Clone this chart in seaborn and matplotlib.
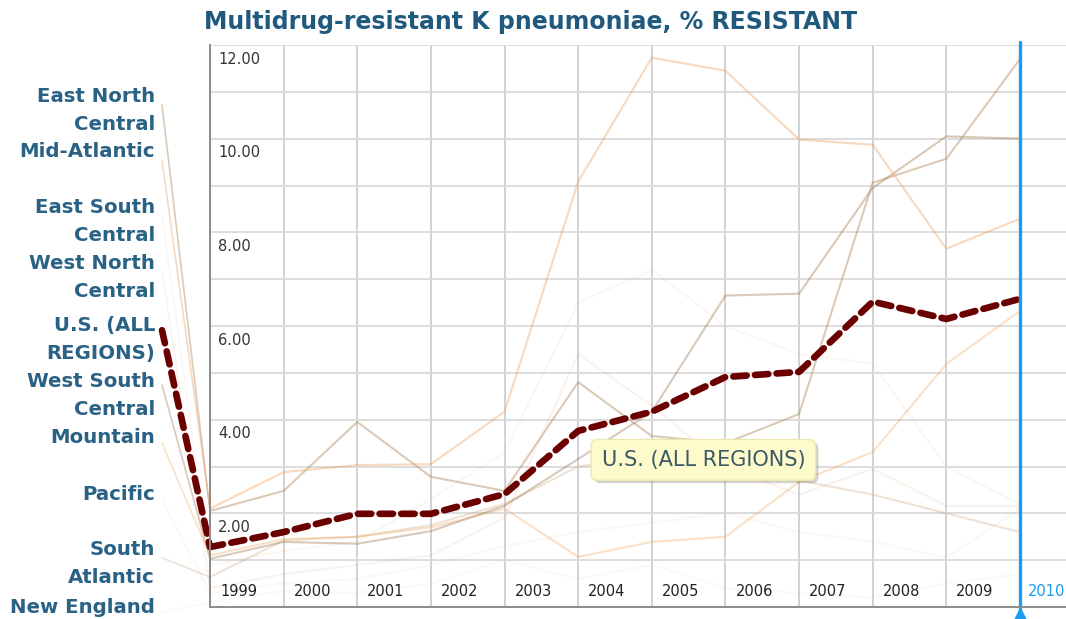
import matplotlib
matplotlib.use("Agg")
import matplotlib.pyplot as plt
import matplotlib.patheffects as pe
import numpy as np
import pandas as pd
import seaborn as sns

# data (percent resistant)
years = list(range(1999, 2011))
regions = [
    "East North\nCentral",
    "Mid-Atlantic",
    "East South\nCentral",
    "West North\nCentral",
    "U.S. (ALL\nREGIONS)",
    "West South\nCentral",
    "Mountain",
    "Pacific",
    "South\nAtlantic",
    "New England",
]
east_north_central = [2.05, 2.48, 3.95, 2.78, 2.48, 4.80, 3.65, 3.50, 4.12, 9.06, 9.57, 11.70]
mid_atlantic = [2.10, 2.88, 3.03, 3.05, 4.17, 9.08, 11.73, 11.45, 9.98, 9.87, 7.65, 8.29]
east_south_central = [0.90, 1.20, 1.40, 2.30, 3.30, 6.50, 7.20, 6.00, 5.40, 5.20, 3.00, 2.20]
west_north_central = [0.40, 0.70, 0.90, 1.10, 1.90, 5.40, 4.30, 3.00, 2.40, 2.95, 2.16, 2.16]
us_all = [1.28, 1.60, 1.99, 1.99, 2.41, 3.76, 4.17, 4.91, 5.02, 6.52, 6.15, 6.58]
west_south_central = [1.03, 1.39, 1.35, 1.62, 2.16, 3.16, 4.17, 6.65, 6.69, 8.95, 10.05, 10.00]
mountain = [1.10, 1.45, 1.50, 1.70, 2.10, 1.07, 1.39, 1.50, 2.67, 3.31, 5.19, 6.32]
pacific = [0.30, 0.50, 0.60, 0.90, 1.30, 1.60, 1.80, 2.00, 1.60, 1.40, 1.05, 2.10]
south_atlantic = [0.64, 1.42, 1.50, 1.75, 2.20, 3.00, 3.20, 3.10, 2.70, 2.40, 2.00, 1.60]
new_england = [0.10, 0.35, 0.30, 0.50, 1.00, 0.60, 0.90, 0.40, 0.30, 0.20, 0.50, 0.70]

series = [east_north_central, mid_atlantic, east_south_central, west_north_central, us_all,
          west_south_central, mountain, pacific, south_atlantic, new_england]

# line look per region (colour, alpha)
styles = [
    ("#b08a60", 0.45), ("#eca060", 0.40), ("#e8b080", 0.10), ("#e0a070", 0.13), ("#6b0000", 1.0),
    ("#a07850", 0.40), ("#f0a860", 0.35), ("#f0b890", 0.12), ("#c8a078", 0.30), ("#e8c0a0", 0.10),
]
# where each left-hand label sits (first text line, value units) and where its connector starts
label_y = [10.89, 9.72, 8.52, 7.33, 6.02, 4.82, 3.61, 2.41, 1.22, -0.02]
anchor_y = [10.72, 9.54, 8.37, 7.17, 5.91, 4.74, 3.50, 2.30, 1.05, -0.11]

df = pd.DataFrame({"year": years})
for name, vals in zip(regions, series):
    df[name] = vals

sns.set_style("white")
plt.rcParams["font.family"] = ["DejaVu Sans"]

fig = plt.figure(figsize=(10.66, 6.19), dpi=100)
ax = fig.add_axes([210 / 1066, 12 / 619, 856 / 1066, 562 / 619])
ax.set_xlim(1999, 2010.625)
ax.set_ylim(0, 12)

# grid
ax.set_xticks(range(1999, 2011))
ax.set_yticks(range(0, 13))
ax.grid(True, axis="x", color="#cfcfcf", lw=1.3)
ax.grid(True, axis="y", color="#dadada", lw=1.3)
ax.tick_params(length=0, labelleft=False, labelbottom=False)
for s in ["top", "right"]:
    ax.spines[s].set_visible(False)
ax.spines["left"].set_color("#8c8c8c")
ax.spines["left"].set_linewidth(1.4)
ax.spines["bottom"].set_color("#8c8c8c")
ax.spines["bottom"].set_linewidth(1.4)

label_color = "#2a6285"
px_x = 1 / 73.64  # one pixel in year units
px_y = 12 / 562   # one pixel in value units
x_anchor = 1999 - 48 * px_x
x_label = 1999 - 55 * px_x

order = [9, 7, 2, 3, 8, 6, 0, 5, 1, 4]
for i in order:
    name = regions[i]
    color, alpha = styles[i]
    if i == 4:
        continue
    sns.lineplot(data=df, x="year", y=name, ax=ax, color=color, alpha=alpha, lw=1.5)
    ax.plot([x_anchor, years[0]], [anchor_y[i], df[name].iloc[0]], color=color,
            alpha=alpha, lw=1.2, clip_on=False)

# U.S. line, thick dashed
us_name = regions[4]
sns.lineplot(data=df, x="year", y=us_name, ax=ax, color="#6b0000", lw=4.8)
ln = ax.lines[-1]
ln.set_dashes((2.0, 1.25))
ln.set_dash_capstyle("round")
ln.set_solid_joinstyle("round")
lc, = ax.plot([x_anchor, years[0]], [anchor_y[4], us_all[0]], color="#6b0000", lw=4.8,
              clip_on=False)
lc.set_dashes((2.0, 1.25))
lc.set_dash_capstyle("round")

# left labels
for i, name in enumerate(regions):
    for k, part in enumerate(name.split("\n")):
        ax.text(x_label, label_y[i] - k * 28 * px_y, part, ha="right", va="center",
                fontsize=14.2, fontweight="bold", color=label_color)

# value labels inside plot
for v in range(2, 13, 2):
    ax.text(1999 + 8 * px_x, v - 14 * px_y, f"{v:.2f}", ha="left", va="center",
            fontsize=10.5, color="#333333")
for yr in years[:-1]:
    ax.text(yr + 10 * px_x, 15 * px_y, str(yr), ha="left", va="center",
            fontsize=10.5, color="#222222")

# current-year marker
blue = "#1a9bf0"
ax.axvline(years[-1], ymin=-0.01, ymax=1.006, color=blue, lw=2.4, clip_on=False)
ax.plot([years[-1]], [-0.012], marker="^", ms=8, color=blue, clip_on=False,
        transform=ax.get_xaxis_transform())
ax.text(years[-1] + 8 * px_x, 15 * px_y, str(years[-1]), ha="left", va="center",
        fontsize=10.5, color=blue)

# tooltip
tip = ax.text(2005.70, 3.14, "U.S. (ALL REGIONS)", ha="center", va="center", fontsize=15,
              color="#3d5866",
              bbox=dict(boxstyle="round,pad=0.5,rounding_size=0.3", fc="#fdfbcb",
                        ec="#ece6b0", lw=1))
tip.get_bbox_patch().set_path_effects([pe.withSimplePatchShadow(offset=(2, -2), alpha=0.25)])

ax.set_xlabel("")
ax.set_ylabel("")

fig.text(0.498, 0.964, "Multidrug-resistant K pneumoniae, % RESISTANT", ha="center", va="center",
         fontsize=17, fontweight="bold", color="#1f5a7e")

fig.savefig("out.png", dpi=100)
